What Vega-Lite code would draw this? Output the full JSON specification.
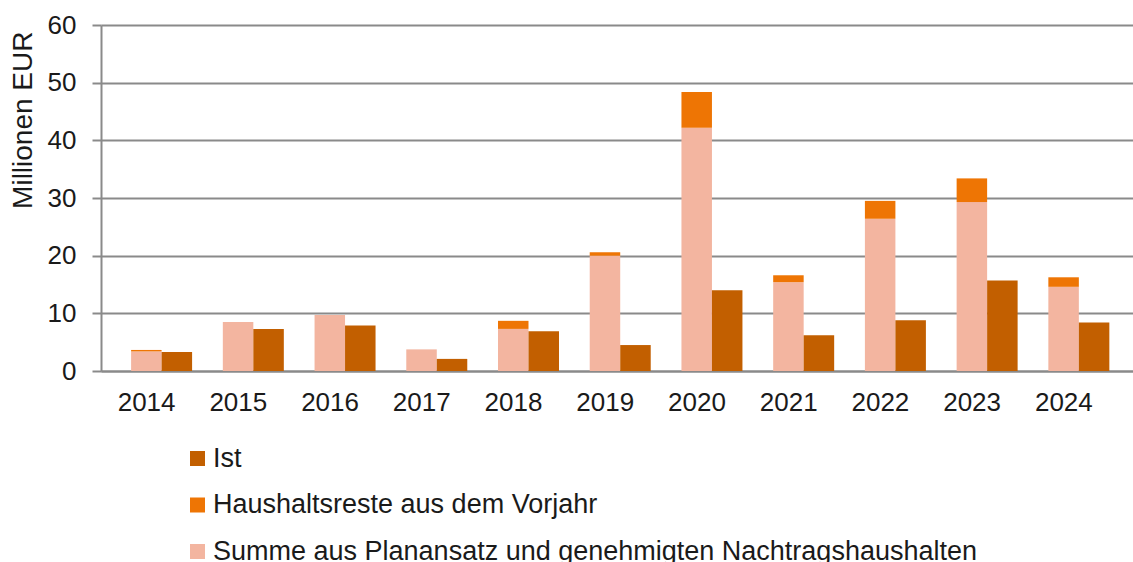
{
  "$schema": "https://vega.github.io/schema/vega-lite/v6.json",
  "autosize": "none",
  "width": 1032,
  "height": 346,
  "padding": {"left": 101, "top": 25, "right": 0, "bottom": 191},
  "background": "white",
  "config": {
    "view": {"stroke": null},
    "font": "Liberation Sans"
  },
  "data": {
    "values": [
      {"Jahr": "2014", "Balken": "Plan", "Kategorie": "Summe aus Planansatz und genehmigten Nachtragshaushalten", "ord": 1, "Wert": 3.4},
      {"Jahr": "2014", "Balken": "Plan", "Kategorie": "Haushaltsreste aus dem Vorjahr", "ord": 2, "Wert": 0.25},
      {"Jahr": "2014", "Balken": "Ist", "Kategorie": "Ist", "ord": 1, "Wert": 3.3},
      {"Jahr": "2015", "Balken": "Plan", "Kategorie": "Summe aus Planansatz und genehmigten Nachtragshaushalten", "ord": 1, "Wert": 8.5},
      {"Jahr": "2015", "Balken": "Plan", "Kategorie": "Haushaltsreste aus dem Vorjahr", "ord": 2, "Wert": 0},
      {"Jahr": "2015", "Balken": "Ist", "Kategorie": "Ist", "ord": 1, "Wert": 7.3},
      {"Jahr": "2016", "Balken": "Plan", "Kategorie": "Summe aus Planansatz und genehmigten Nachtragshaushalten", "ord": 1, "Wert": 9.7},
      {"Jahr": "2016", "Balken": "Plan", "Kategorie": "Haushaltsreste aus dem Vorjahr", "ord": 2, "Wert": 0},
      {"Jahr": "2016", "Balken": "Ist", "Kategorie": "Ist", "ord": 1, "Wert": 7.9},
      {"Jahr": "2017", "Balken": "Plan", "Kategorie": "Summe aus Planansatz und genehmigten Nachtragshaushalten", "ord": 1, "Wert": 3.75},
      {"Jahr": "2017", "Balken": "Plan", "Kategorie": "Haushaltsreste aus dem Vorjahr", "ord": 2, "Wert": 0},
      {"Jahr": "2017", "Balken": "Ist", "Kategorie": "Ist", "ord": 1, "Wert": 2.1},
      {"Jahr": "2018", "Balken": "Plan", "Kategorie": "Summe aus Planansatz und genehmigten Nachtragshaushalten", "ord": 1, "Wert": 7.3},
      {"Jahr": "2018", "Balken": "Plan", "Kategorie": "Haushaltsreste aus dem Vorjahr", "ord": 2, "Wert": 1.4},
      {"Jahr": "2018", "Balken": "Ist", "Kategorie": "Ist", "ord": 1, "Wert": 6.9},
      {"Jahr": "2019", "Balken": "Plan", "Kategorie": "Summe aus Planansatz und genehmigten Nachtragshaushalten", "ord": 1, "Wert": 20.0},
      {"Jahr": "2019", "Balken": "Plan", "Kategorie": "Haushaltsreste aus dem Vorjahr", "ord": 2, "Wert": 0.6},
      {"Jahr": "2019", "Balken": "Ist", "Kategorie": "Ist", "ord": 1, "Wert": 4.5},
      {"Jahr": "2020", "Balken": "Plan", "Kategorie": "Summe aus Planansatz und genehmigten Nachtragshaushalten", "ord": 1, "Wert": 42.2},
      {"Jahr": "2020", "Balken": "Plan", "Kategorie": "Haushaltsreste aus dem Vorjahr", "ord": 2, "Wert": 6.2},
      {"Jahr": "2020", "Balken": "Ist", "Kategorie": "Ist", "ord": 1, "Wert": 14.0},
      {"Jahr": "2021", "Balken": "Plan", "Kategorie": "Summe aus Planansatz und genehmigten Nachtragshaushalten", "ord": 1, "Wert": 15.4},
      {"Jahr": "2021", "Balken": "Plan", "Kategorie": "Haushaltsreste aus dem Vorjahr", "ord": 2, "Wert": 1.2},
      {"Jahr": "2021", "Balken": "Ist", "Kategorie": "Ist", "ord": 1, "Wert": 6.2},
      {"Jahr": "2022", "Balken": "Plan", "Kategorie": "Summe aus Planansatz und genehmigten Nachtragshaushalten", "ord": 1, "Wert": 26.4},
      {"Jahr": "2022", "Balken": "Plan", "Kategorie": "Haushaltsreste aus dem Vorjahr", "ord": 2, "Wert": 3.1},
      {"Jahr": "2022", "Balken": "Ist", "Kategorie": "Ist", "ord": 1, "Wert": 8.8},
      {"Jahr": "2023", "Balken": "Plan", "Kategorie": "Summe aus Planansatz und genehmigten Nachtragshaushalten", "ord": 1, "Wert": 29.3},
      {"Jahr": "2023", "Balken": "Plan", "Kategorie": "Haushaltsreste aus dem Vorjahr", "ord": 2, "Wert": 4.1},
      {"Jahr": "2023", "Balken": "Ist", "Kategorie": "Ist", "ord": 1, "Wert": 15.7},
      {"Jahr": "2024", "Balken": "Plan", "Kategorie": "Summe aus Planansatz und genehmigten Nachtragshaushalten", "ord": 1, "Wert": 14.6},
      {"Jahr": "2024", "Balken": "Plan", "Kategorie": "Haushaltsreste aus dem Vorjahr", "ord": 2, "Wert": 1.65},
      {"Jahr": "2024", "Balken": "Ist", "Kategorie": "Ist", "ord": 1, "Wert": 8.4}
    ]
  },
  "mark": {"type": "bar"},
  "encoding": {
    "x": {
      "field": "Jahr",
      "type": "nominal",
      "scale": {"paddingInner": 0.335, "paddingOuter": 0.293, "align": 0.56},
      "axis": {
        "title": null,
        "labelAngle": 0,
        "labelFontSize": 26,
        "labelColor": "#1a1a1a",
        "labelOffset": -15,
        "labelPadding": 18,
        "ticks": false,
        "domainColor": "#8a8a8a",
        "domainWidth": 2,
        "grid": false
      }
    },
    "xOffset": {
      "field": "Balken",
      "type": "nominal",
      "scale": {"domain": ["Plan", "Ist"], "paddingInner": 0, "paddingOuter": 0}
    },
    "y": {
      "field": "Wert",
      "type": "quantitative",
      "stack": "zero",
      "scale": {"domain": [0, 60], "nice": false},
      "axis": {
        "title": "Millionen EUR",
        "titleFontSize": 28,
        "titleFontWeight": "normal",
        "titleColor": "#1a1a1a",
        "titleAnchor": "end",
        "titleY": 6,
        "titlePadding": 10,
        "values": [0, 10, 20, 30, 40, 50, 60],
        "labelFontSize": 26,
        "labelColor": "#1a1a1a",
        "labelPadding": 16,
        "tickSize": 9,
        "tickColor": "#8a8a8a",
        "tickWidth": 2,
        "domainColor": "#8a8a8a",
        "domainWidth": 2,
        "gridColor": "#8a8a8a",
        "gridWidth": 2
      }
    },
    "color": {
      "field": "Kategorie",
      "type": "nominal",
      "scale": {
        "domain": ["Ist", "Haushaltsreste aus dem Vorjahr", "Summe aus Planansatz und genehmigten Nachtragshaushalten"],
        "range": ["#C25F00", "#EE7504", "#F3B5A0"]
      },
      "legend": {
        "title": null,
        "orient": "none",
        "legendX": 83,
        "legendY": 420,
        "direction": "vertical",
        "symbolType": "square",
        "symbolSize": 225,
        "symbolStrokeWidth": 0,
        "labelFontSize": 27,
        "labelColor": "#1a1a1a",
        "labelLimit": 1000,
        "rowPadding": 18.5,
        "labelOffset": 2
      }
    },
    "order": {"field": "ord", "type": "quantitative"}
  }
}
